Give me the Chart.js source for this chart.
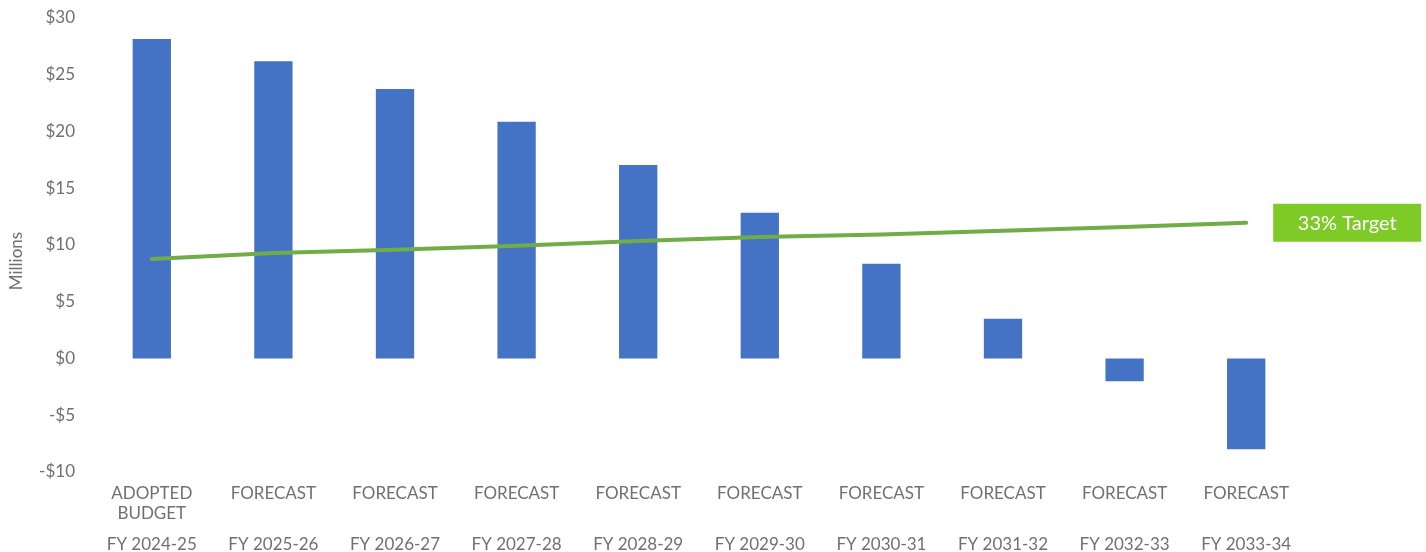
<!DOCTYPE html>
<html>
<head>
<meta charset="utf-8">
<title>Reserve Forecast</title>
<script src="https://cdn.jsdelivr.net/npm/chart.js@4.4.1/dist/chart.umd.min.js"></script>
<style>
  html, body { margin: 0; padding: 0; background: #ffffff; }
  #wrap { position: relative; width: 1426px; height: 552px; }
</style>
</head>
<body>
<div id="wrap"><canvas id="chart"></canvas></div>
<script>
// Budget stage for each year (first row of category labels)
const stageLabels = [
  ['ADOPTED', 'BUDGET'], 'FORECAST', 'FORECAST', 'FORECAST', 'FORECAST',
  'FORECAST', 'FORECAST', 'FORECAST', 'FORECAST', 'FORECAST'
];
// Fiscal years (second row of category labels)
const fiscalYears = [
  'FY 2024-25', 'FY 2025-26', 'FY 2026-27', 'FY 2027-28', 'FY 2028-29',
  'FY 2029-30', 'FY 2030-31', 'FY 2031-32', 'FY 2032-33', 'FY 2033-34'
];
// Fund balance, $ millions
const balanceValues = [28.15, 26.2, 23.75, 20.85, 17.05, 12.85, 8.35, 3.5, -2.0, -8.0];
// 33% reserve target, $ millions
const targetValues = [8.77, 9.3, 9.59, 9.94, 10.35, 10.7, 10.93, 11.26, 11.58, 11.96];
const targetLabel = '33% Target';
const unitLabel = 'Millions';

const yTicks = { min: -10, max: 30, step: 5 };

const textColor = '#707070';
const fontFamily = 'Lato, "Open Sans", "Noto Sans", sans-serif';

// Green tag at the end of the target line
const targetTag = {
  id: 'targetTag',
  afterDatasetsDraw(chart) {
    const meta = chart.getDatasetMeta(1);
    const last = meta.data[meta.data.length - 1];
    if (!last) return;
    const ctx = chart.ctx;
    const x0 = last.x + 27;
    const h = 38;
    const w = 148;
    ctx.save();
    ctx.fillStyle = '#7ECB28';
    ctx.fillRect(x0, last.y - h / 2, w, h);
    ctx.fillStyle = '#ffffff';
    ctx.font = '20px ' + fontFamily;
    ctx.textAlign = 'center';
    ctx.textBaseline = 'middle';
    ctx.fillText(targetLabel, x0 + w / 2, last.y + 1);
    ctx.restore();
  }
};

// Rotated unit caption beside the value axis, sitting a little below the axis middle
const unitCaption = {
  id: 'unitCaption',
  afterDraw(chart) {
    const area = chart.chartArea;
    const ctx = chart.ctx;
    ctx.save();
    ctx.translate(17, (area.top + area.bottom) / 2 + 16);
    ctx.rotate(-Math.PI / 2);
    ctx.fillStyle = textColor;
    ctx.font = '17px ' + fontFamily;
    ctx.textAlign = 'center';
    ctx.textBaseline = 'middle';
    ctx.fillText(unitLabel, 0, 0);
    ctx.restore();
  }
};

new Chart(document.getElementById('chart'), {
  type: 'bar',
  data: {
    labels: stageLabels,
    datasets: [
      {
        type: 'bar',
        data: balanceValues,
        backgroundColor: '#4472C4',
        borderWidth: 0,
        categoryPercentage: 1,
        barPercentage: 0.315,
        order: 2
      },
      {
        type: 'line',
        data: targetValues,
        borderColor: '#70AD47',
        borderWidth: 4,
        borderCapStyle: 'round',
        pointRadius: 0,
        tension: 0,
        fill: false,
        order: 1
      }
    ]
  },
  options: {
    responsive: true,
    maintainAspectRatio: false,
    animation: false,
    layout: { padding: { top: 18, right: 119, bottom: 0, left: 0 } },
    plugins: {
      legend: { display: false },
      tooltip: { enabled: false }
    },
    scales: {
      x: {
        type: 'category',
        position: 'bottom',
        grid: { display: false, drawTicks: false },
        border: { display: false },
        afterFit(scale) { scale.height = 51; },
        ticks: {
          color: textColor,
          font: { family: fontFamily, size: 17 },
          padding: 11,
          maxRotation: 0,
          autoSkip: false
        }
      },
      x2: {
        type: 'category',
        position: 'bottom',
        labels: fiscalYears,
        grid: { display: false, drawTicks: false },
        border: { display: false },
        afterFit(scale) { scale.height = 29; },
        ticks: {
          color: textColor,
          font: { family: fontFamily, size: 17 },
          padding: 11,
          maxRotation: 0,
          autoSkip: false
        }
      },
      y: {
        min: yTicks.min,
        max: yTicks.max,
        grid: { display: false, drawTicks: false },
        border: { display: false },
        afterFit(scale) {
          scale.width = 91;
          scale.paddingTop = 0;
          scale.paddingBottom = 0;
        },
        ticks: {
          stepSize: yTicks.step,
          color: textColor,
          font: { family: fontFamily, size: 17 },
          padding: 16,
          callback: v => (v < 0 ? '-$' : '$') + Math.abs(v)
        }
      }
    }
  },
  plugins: [targetTag, unitCaption]
});
</script>
</body>
</html>
